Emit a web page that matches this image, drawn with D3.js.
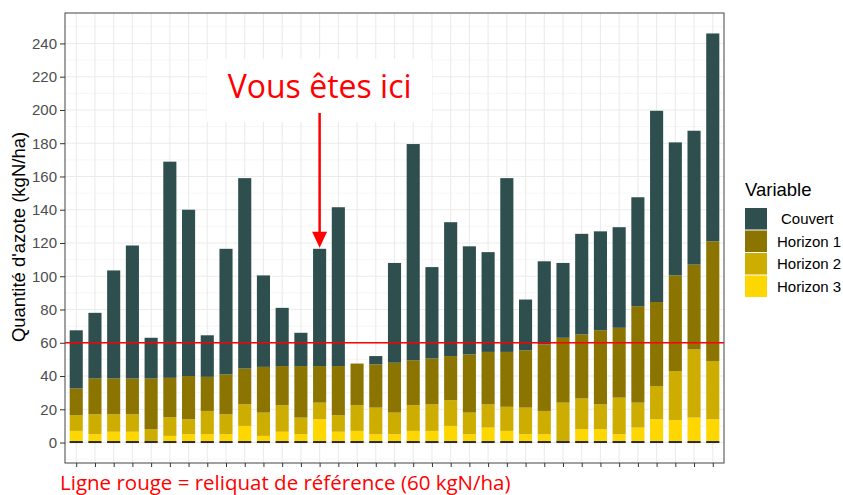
<!DOCTYPE html>
<html>
<head>
<meta charset="utf-8">
<script src="https://cdn.jsdelivr.net/npm/d3@7"></script>
<style>
  body { margin: 0; background: #fff; }
  svg { display: block; font-family: "Liberation Sans", Arial, sans-serif; }
</style>
</head>
<body>
<svg id="chart" width="843" height="495"></svg>
<script>
// one value per parcel (35 parcels), in kgN/ha
var parcels = d3.range(1, 36);
var couvert  = [35, 39.5, 65, 80, 24.5, 130, 100, 25, 75.5, 114.5, 55, 35, 20, 70.5, 95.5, 0, 5, 60, 130, 55, 80.5, 65, 60, 104.5, 30.5, 50, 45, 60.5, 59.5, 60.5, 65.5, 115, 80, 80.5, 125];
var horizon1 = [16, 21.5, 21.5, 21.5, 30.5, 23.7, 26, 20.5, 24, 21.5, 27.5, 23.5, 31, 22, 29.5, 25, 26, 30, 27, 27.5, 26.5, 35, 31.5, 33, 34.5, 40, 39, 38.5, 44.5, 42, 58, 50.5, 57.5, 51, 72];
var horizon2 = [9.5, 12, 10.5, 10.5, 8, 11.2, 9, 14, 12, 13, 14, 16, 10, 10, 10, 15.5, 16, 13, 15.5, 16, 15.5, 13, 14, 14.5, 16, 14, 24, 18.5, 15, 22, 15, 20, 29.5, 41, 35];
var horizon3 = [7, 5, 6.5, 6.5, 0, 4, 5, 5, 5, 10, 4, 6.5, 5, 14, 6.5, 7, 5, 5, 7, 7, 10, 5, 9, 7, 5, 5, 0, 8, 8, 5, 9, 14, 13.5, 15, 14];
var variables = ['Couvert', 'Horizon 1', 'Horizon 2', 'Horizon 3'];
var colors = ['#2F4F4F', '#8B7500', '#CDAD00', '#FFD700'];
var yTicks = d3.range(0, 241, 20);
var reference = 60;
var here = 14;

var svg = d3.select('#chart');
var pLeft = 65, pRight = 724, pTop = 13, pBottom = 463;

var rows = parcels.map(function (p, i) {
    return { parcel: p, 'Couvert': couvert[i], 'Horizon 1': horizon1[i],
             'Horizon 2': horizon2[i], 'Horizon 3': horizon3[i] };
});
var stack = d3.stack().keys(variables.slice().reverse())(rows);
var maxTotal = d3.max(stack[stack.length - 1], function (d) { return d[1]; });
var pad = maxTotal * 0.05;

var x = d3.scalePoint().domain(parcels).range([pLeft, pRight]).padding(0.6);
var y = d3.scaleLinear().domain([-pad, maxTotal + pad]).range([pBottom, pTop]);
var barW = x.step() * 0.7;
var color = d3.scaleOrdinal().domain(variables).range(colors);

// grid
var grid = svg.append('g');
grid.selectAll('.minor').data(d3.range(-10, 251, 10).filter(function (v) { return v % 20 !== 0; }))
    .enter().append('line')
    .attr('x1', pLeft).attr('x2', pRight)
    .attr('y1', function (d) { return y(d); }).attr('y2', function (d) { return y(d); })
    .attr('stroke', '#F0F0F0').attr('stroke-width', 0.6);
grid.selectAll('.major').data(yTicks)
    .enter().append('line')
    .attr('x1', pLeft).attr('x2', pRight)
    .attr('y1', function (d) { return y(d); }).attr('y2', function (d) { return y(d); })
    .attr('stroke', '#EBEBEB').attr('stroke-width', 1.1);
grid.selectAll('.vx').data(parcels)
    .enter().append('line')
    .attr('x1', function (d) { return x(d); }).attr('x2', function (d) { return x(d); })
    .attr('y1', pTop).attr('y2', pBottom)
    .attr('stroke', '#EBEBEB').attr('stroke-width', 1.1);

// stacked bars
svg.append('g').selectAll('g').data(stack)
    .enter().append('g')
    .attr('fill', function (s) { return color(s.key); })
    .selectAll('rect').data(function (s) { return s; })
    .enter().append('rect')
    .attr('x', function (d) { return x(d.data.parcel) - barW / 2; })
    .attr('width', barW)
    .attr('y', function (d) { return y(d[1]); })
    .attr('height', function (d) { return y(d[0]) - y(d[1]); });

// dark base of each bar
svg.append('g').selectAll('rect').data(parcels)
    .enter().append('rect')
    .attr('x', function (d) { return x(d) - barW / 2; })
    .attr('width', barW)
    .attr('y', y(0) - 1.5).attr('height', 2)
    .attr('fill', '#2b2b2b');

// reference line
svg.append('line')
    .attr('x1', pLeft).attr('x2', pRight)
    .attr('y1', y(reference)).attr('y2', y(reference))
    .attr('stroke', '#FF0000').attr('stroke-width', 1.4);

// panel border
svg.append('rect')
    .attr('x', pLeft).attr('y', pTop)
    .attr('width', pRight - pLeft).attr('height', pBottom - pTop)
    .attr('fill', 'none').attr('stroke', '#555').attr('stroke-width', 1.1);

// axes
var yAxis = svg.append('g').attr('transform', 'translate(' + pLeft + ',0)')
    .call(d3.axisLeft(y).tickValues(yTicks).tickSize(5).tickPadding(3));
yAxis.select('.domain').remove();
yAxis.selectAll('line').attr('stroke', '#333');
yAxis.selectAll('text').attr('fill', '#4D4D4D').style('font-size', '15px')
    .style('font-family', '"Liberation Sans", Arial, sans-serif');

var xAxis = svg.append('g').attr('transform', 'translate(0,' + pBottom + ')')
    .call(d3.axisBottom(x).tickSize(4).tickFormat(''));
xAxis.select('.domain').remove();
xAxis.selectAll('line').attr('stroke', '#333');

svg.append('text')
    .attr('transform', 'translate(25,237) rotate(-90)')
    .attr('text-anchor', 'middle')
    .style('font-size', '18.5px')
    .text("Quantité d'azote (kgN/ha)");

// legend
var legend = svg.append('g').attr('transform', 'translate(745,0)');
legend.append('text').attr('x', 0).attr('y', 196)
    .style('font-size', '18.5px').text('Variable');
var items = legend.selectAll('.item').data(variables)
    .enter().append('g')
    .attr('transform', function (d, i) { return 'translate(0,' + (208 + i * 22.5) + ')'; });
items.append('rect').attr('width', 22).attr('height', 21.5)
    .attr('fill', function (d) { return color(d); });
items.append('text').attr('x', function (d, i) { return i === 0 ? 36 : 32; }).attr('y', 16)
    .style('font-size', '15px').text(function (d) { return d; });

// "Vous êtes ici" annotation
var hx = x(here);
var hTop = y(couvert[here - 1] + horizon1[here - 1] + horizon2[here - 1] + horizon3[here - 1]);
svg.append('rect').attr('x', 207).attr('y', 59).attr('width', 225).attr('height', 63)
    .attr('fill', '#fff');
svg.append('text').attr('x', hx).attr('y', 98)
    .attr('text-anchor', 'middle').attr('fill', '#FF0000')
    .style('font-family', '"Open Sans", sans-serif').style('font-size', '32px')
    .text('Vous êtes ici');
svg.append('line').attr('x1', hx).attr('x2', hx).attr('y1', 113).attr('y2', hTop - 14)
    .attr('stroke', '#FF0000').attr('stroke-width', 2.5);
svg.append('path')
    .attr('d', 'M' + (hx - 7.5) + ',' + (hTop - 17) + 'L' + (hx + 7.5) + ',' + (hTop - 17) + 'L' + hx + ',' + (hTop - 1) + 'Z')
    .attr('fill', '#FF0000');

svg.append('text').attr('x', 60).attr('y', 490)
    .attr('fill', '#FF0000')
    .style('font-family', '"Open Sans", sans-serif').style('font-size', '20.5px')
    .text('Ligne rouge = reliquat de référence (60 kgN/ha)');
</script>
</body>
</html>
